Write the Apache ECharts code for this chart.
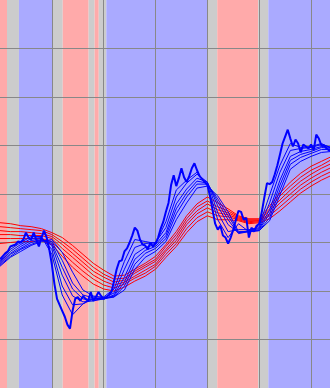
<!DOCTYPE html>
<html>
<head>
<meta charset="utf-8">
<script src="https://cdn.jsdelivr.net/npm/echarts@6/dist/echarts.min.js"></script>
<style>html,body{margin:0;padding:0;background:#fff}#c{width:330px;height:388px}</style>
</head>
<body>
<div id="c"></div>
<script>
// Close price, one value per period (period index 0..128)
const price = [111.0,111.3,111.6,111.8,112.3,112.4,112.5,112.8,112.7,113.0,113.7,113.2,113.0,113.7,113.0,112.3,113.2,113.9,113.2,112.0,
110.5,108.5,107.0,106.4,105.8,105.2,104.4,104.0,105.8,107.0,107.2,106.8,107.3,107.0,106.8,107.7,106.8,107.2,107.7,107.3,
107.0,107.2,107.4,107.7,108.8,110.0,110.8,110.9,111.8,112.1,112.7,113.4,114.2,113.9,113.0,112.5,112.4,112.0,112.7,112.3,
112.6,113.2,114.1,114.8,115.8,116.7,118.5,119.5,118.4,119.2,120.2,119.3,118.8,119.4,120.2,120.7,120.0,119.4,119.1,118.8,
118.5,117.4,116.0,114.6,114.0,114.4,113.4,113.2,112.6,113.2,114.0,115.0,115.9,115.8,115.0,115.2,113.2,114.2,113.8,114.4,
114.6,115.8,117.3,118.7,118.6,118.8,119.6,120.5,121.6,122.7,123.4,124.1,123.2,122.4,123.1,122.7,121.8,122.6,122.4,122.2,
122.6,122.0,123.6,123.2,122.5,122.5,122.2,122.0,122.0];

// Short-term averages, sampled every 4 periods (0,4,...,128)
const shortAvg1 = [110.8,112.0,112.7,113.3,113.3,111.5,107.4,105.4,106.5,107.2,107.2,108.0,110.8,113.0,112.8,112.6,114.8,118.0,119.0,119.8,118.5,115.0,113.2,114.6,113.8,114.4,117.5,120.5,122.7,122.3,122.4,122.7,122.2];
const shortAvg2 = [110.7,111.8,112.5,113.1,113.2,112.0,108.3,106.4,106.5,107.0,107.1,107.6,110.0,112.2,112.6,112.7,114.2,117.3,118.7,119.6,118.8,115.7,113.8,114.0,114.0,114.2,116.7,119.8,122.0,122.2,122.3,122.6,122.3];
const shortAvg3 = [110.6,111.6,112.3,112.9,113.1,112.4,109.4,107.3,106.7,106.8,107.0,107.4,109.2,111.5,112.2,112.5,113.7,116.6,118.1,119.2,118.8,116.4,114.5,113.7,113.9,114.1,116.0,119.0,121.4,121.9,122.1,122.4,122.3];
const shortAvg4 = [110.5,111.5,112.1,112.7,113.0,112.6,110.2,108.0,107.0,106.9,107.0,107.3,108.7,111.0,111.9,112.3,113.4,116.1,117.7,118.9,118.7,116.8,115.0,113.6,113.8,114.0,115.6,118.5,121.0,121.6,121.9,122.3,122.2];
const shortAvg5 = [110.4,111.3,112.0,112.5,112.9,112.8,110.9,108.6,107.4,107.1,107.0,107.2,108.3,110.5,111.6,112.1,113.1,115.6,117.3,118.6,118.6,117.1,115.4,113.7,113.8,113.9,115.2,118.0,120.6,121.3,121.7,122.1,122.1];
const shortAvg6 = [110.3,111.2,111.8,112.4,112.8,113.0,111.7,109.7,107.9,107.3,107.1,107.2,107.9,110.0,111.2,111.8,112.8,115.0,116.7,118.2,118.4,117.4,115.8,113.8,113.8,113.9,114.9,117.5,120.1,120.9,121.4,121.8,121.9];

// Long-term averages, sampled every 4 periods
const longAvg1 = [114.7,114.6,114.4,114.3,114.1,113.7,113.2,112.4,111.5,110.6,109.9,109.3,109.4,110.0,110.6,111.3,112.5,113.8,115.4,116.6,117.3,116.7,116.1,115.4,115.1,115.1,116.4,117.7,118.8,119.7,120.4,120.9,121.4];
const longAvg2 = [114.3,114.2,114.1,114.0,113.9,113.5,112.8,112.0,111.1,110.2,109.5,109.0,109.1,109.8,110.4,111.0,112.3,113.5,115.1,116.3,116.9,116.3,115.9,115.3,115.0,115.0,116.1,117.4,118.4,119.3,120.0,120.5,121.1];
const longAvg3 = [113.9,113.8,113.8,113.7,113.6,113.3,112.5,111.6,110.7,109.8,109.2,108.7,108.9,109.6,110.2,110.8,112.0,113.2,114.8,115.9,116.6,116.0,115.7,115.2,114.9,114.9,115.9,117.0,118.0,118.9,119.6,120.2,120.7];
const longAvg4 = [113.5,113.5,113.4,113.4,113.4,113.1,112.1,111.2,110.3,109.4,108.8,108.4,108.7,109.3,109.9,110.5,111.8,112.9,114.5,115.6,116.2,115.7,115.5,115.1,114.8,114.9,115.6,116.7,117.6,118.5,119.2,119.8,120.3];
const longAvg5 = [113.1,113.1,113.1,113.1,113.1,112.8,111.7,110.7,109.8,109.0,108.4,108.1,108.5,109.1,109.6,110.3,111.5,112.6,114.1,115.2,115.8,115.4,115.3,115.0,114.7,114.8,115.4,116.3,117.2,118.1,118.8,119.4,119.9];
const longAvg6 = [112.6,112.7,112.8,112.8,112.9,112.5,111.3,110.2,109.3,108.5,108.0,107.8,108.2,108.8,109.3,110.0,111.2,112.3,113.7,114.8,115.4,115.0,115.0,114.9,114.6,114.7,115.1,115.9,116.8,117.7,118.4,119.0,119.5];

// Trend regime bands (period boundaries and state)
const regimeBreaks = [-2, 2.7, 7.3, 20.2, 24.2, 34.2, 36.5, 38.1, 41, 80, 83.8, 99.6, 103.5, 140];
const regimeStates = ['down','mixed','up','mixed','down','mixed','down','mixed','up','mixed','down','mixed','up'];

const sampleStep = 4;
const regimeColors = {up:'#aaaaff', down:'#ffaaaa', mixed:'#cccccc'};

const chart = echarts.init(document.getElementById('c'), null, {renderer:'canvas'});
const toPairs = (arr, step) => arr.map((v, k) => [k * step, v]);

const areas = regimeStates.map((s, k) => [
  {xAxis: regimeBreaks[k], itemStyle: {color: regimeColors[s]}},
  {xAxis: regimeBreaks[k + 1]}
]);

const series = [{
  type: 'line', data: toPairs(price, 1), z: 1, silent: true,
  lineStyle: {opacity: 0}, showSymbol: false,
  markArea: {silent: true, data: areas, itemStyle: {opacity: 1}}
}];
[longAvg1, longAvg2, longAvg3, longAvg4, longAvg5, longAvg6].forEach(a => series.push({
  type: 'line', data: toPairs(a, sampleStep), z: 5, showSymbol: false,
  lineStyle: {color: '#ff0000', width: 1}
}));
[shortAvg1, shortAvg2, shortAvg3, shortAvg4, shortAvg5, shortAvg6].forEach(a => series.push({
  type: 'line', data: toPairs(a, sampleStep), z: 6, showSymbol: false,
  lineStyle: {color: '#0000ff', width: 1}
}));
series.push({
  type: 'line', data: toPairs(price, 1), z: 7, showSymbol: false,
  lineStyle: {color: '#0000ff', width: 2}
});

chart.setOption({
  animation: false,
  backgroundColor: '#ffffff',
  grid: {left: -1, right: 0, top: -2, bottom: -2, containLabel: false},
  xAxis: {
    type: 'value', min: 0, max: 127.3, interval: 20, z: 3,
    axisLine: {show: false}, axisTick: {show: false}, axisLabel: {show: false},
    splitLine: {show: true, showMinLine: false, showMaxLine: false, lineStyle: {color: '#888888', width: 1}}
  },
  yAxis: {
    type: 'value', min: 98, max: 137.2, interval: 4.9, z: 3,
    axisLine: {show: false}, axisTick: {show: false}, axisLabel: {show: false},
    splitLine: {show: true, showMinLine: false, showMaxLine: false, lineStyle: {color: '#888888', width: 1}}
  },
  series: series
});
</script>
</body>
</html>
